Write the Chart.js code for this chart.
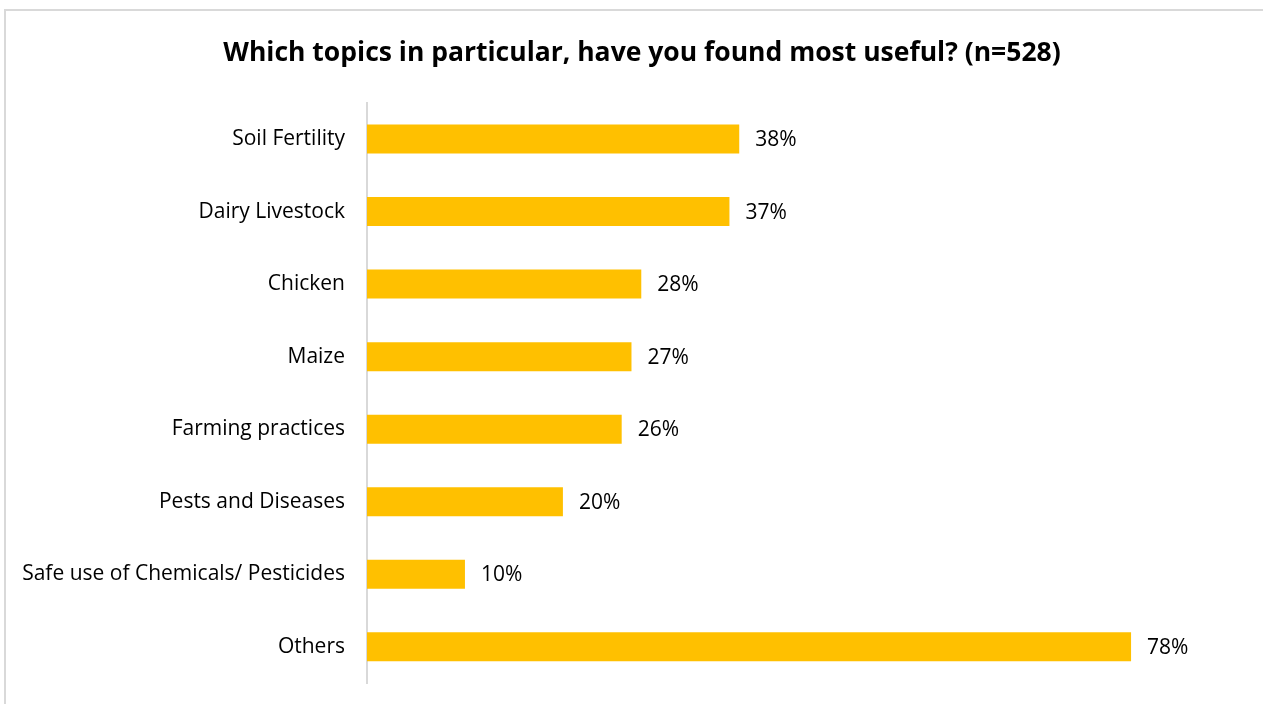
<!DOCTYPE html>
<html lang="en">
<head>
    <meta charset="UTF-8">
    <title>Most useful topics</title>
    <script src="https://cdn.jsdelivr.net/npm/chart.js@4.4.1/dist/chart.umd.min.js"></script>
    <style>
        html, body { margin: 0; padding: 0; background: #fff; overflow: hidden; }
        #frame {
            position: absolute;
            left: 4px;
            top: 9px;
            width: 1272px;
            height: 700px;
            border: 2px solid #d9d9d9;
        }
        #topicsChart { display: block; }
    </style>
</head>
<body>
    <div id="frame">
        <canvas id="topicsChart" width="1272" height="700"></canvas>
    </div>

    <script>
        const topics = [
            'Soil Fertility',
            'Dairy Livestock',
            'Chicken',
            'Maize',
            'Farming practices',
            'Pests and Diseases',
            'Safe use of Chemicals/ Pesticides',
            'Others'
        ];
        const shares = [38, 37, 28, 27, 26, 20, 10, 78];
        const titleText = 'Which topics in particular, have you found most useful? (n=528)';

        const FONT = '"Open Sans", "Noto Sans", sans-serif';

        // percentage written just past the end of each bar
        const valueLabels = {
            id: 'valueLabels',
            afterDatasetsDraw(chart) {
                const ctx = chart.ctx;
                const meta = chart.getDatasetMeta(0);
                ctx.save();
                ctx.font = '21px ' + FONT;
                ctx.fillStyle = '#000';
                ctx.textAlign = 'left';
                ctx.textBaseline = 'middle';
                meta.data.forEach((bar, i) => {
                    ctx.fillText(shares[i] + '%', bar.x + 16, bar.y + 1);
                });
                ctx.restore();
            }
        };

        const ctx = document.getElementById('topicsChart').getContext('2d');
        new Chart(ctx, {
            type: 'bar',
            data: {
                labels: topics,
                datasets: [{
                    data: shares,
                    backgroundColor: '#FFC000',
                    borderWidth: 0,
                    categoryPercentage: 1,
                    barPercentage: 0.4
                }]
            },
            options: {
                indexAxis: 'y',
                responsive: false,
                animation: false,
                layout: {
                    padding: { left: 0, right: 0, top: 0, bottom: 28 }
                },
                plugins: {
                    legend: { display: false },
                    tooltip: { enabled: false },
                    title: {
                        display: true,
                        text: titleText,
                        color: '#000',
                        font: { family: FONT, size: 26.5, weight: 'bold' },
                        padding: { top: 27, bottom: 33 }
                    }
                },
                scales: {
                    x: {
                        display: false,
                        min: 0,
                        max: 93
                    },
                    y: {
                        afterFit(scale) {
                            // fixed label column; labels sit inside the category bands
                            scale.width = 361;
                            scale.paddingTop = 0;
                            scale.paddingBottom = 0;
                        },
                        grid: { drawOnChartArea: false, drawTicks: false },
                        border: { display: true, color: '#d9d9d9', width: 2 },
                        ticks: {
                            color: '#000',
                            padding: 22,
                            font: { family: FONT, size: 21 }
                        }
                    }
                }
            },
            plugins: [valueLabels]
        });
    </script>
</body>
</html>
